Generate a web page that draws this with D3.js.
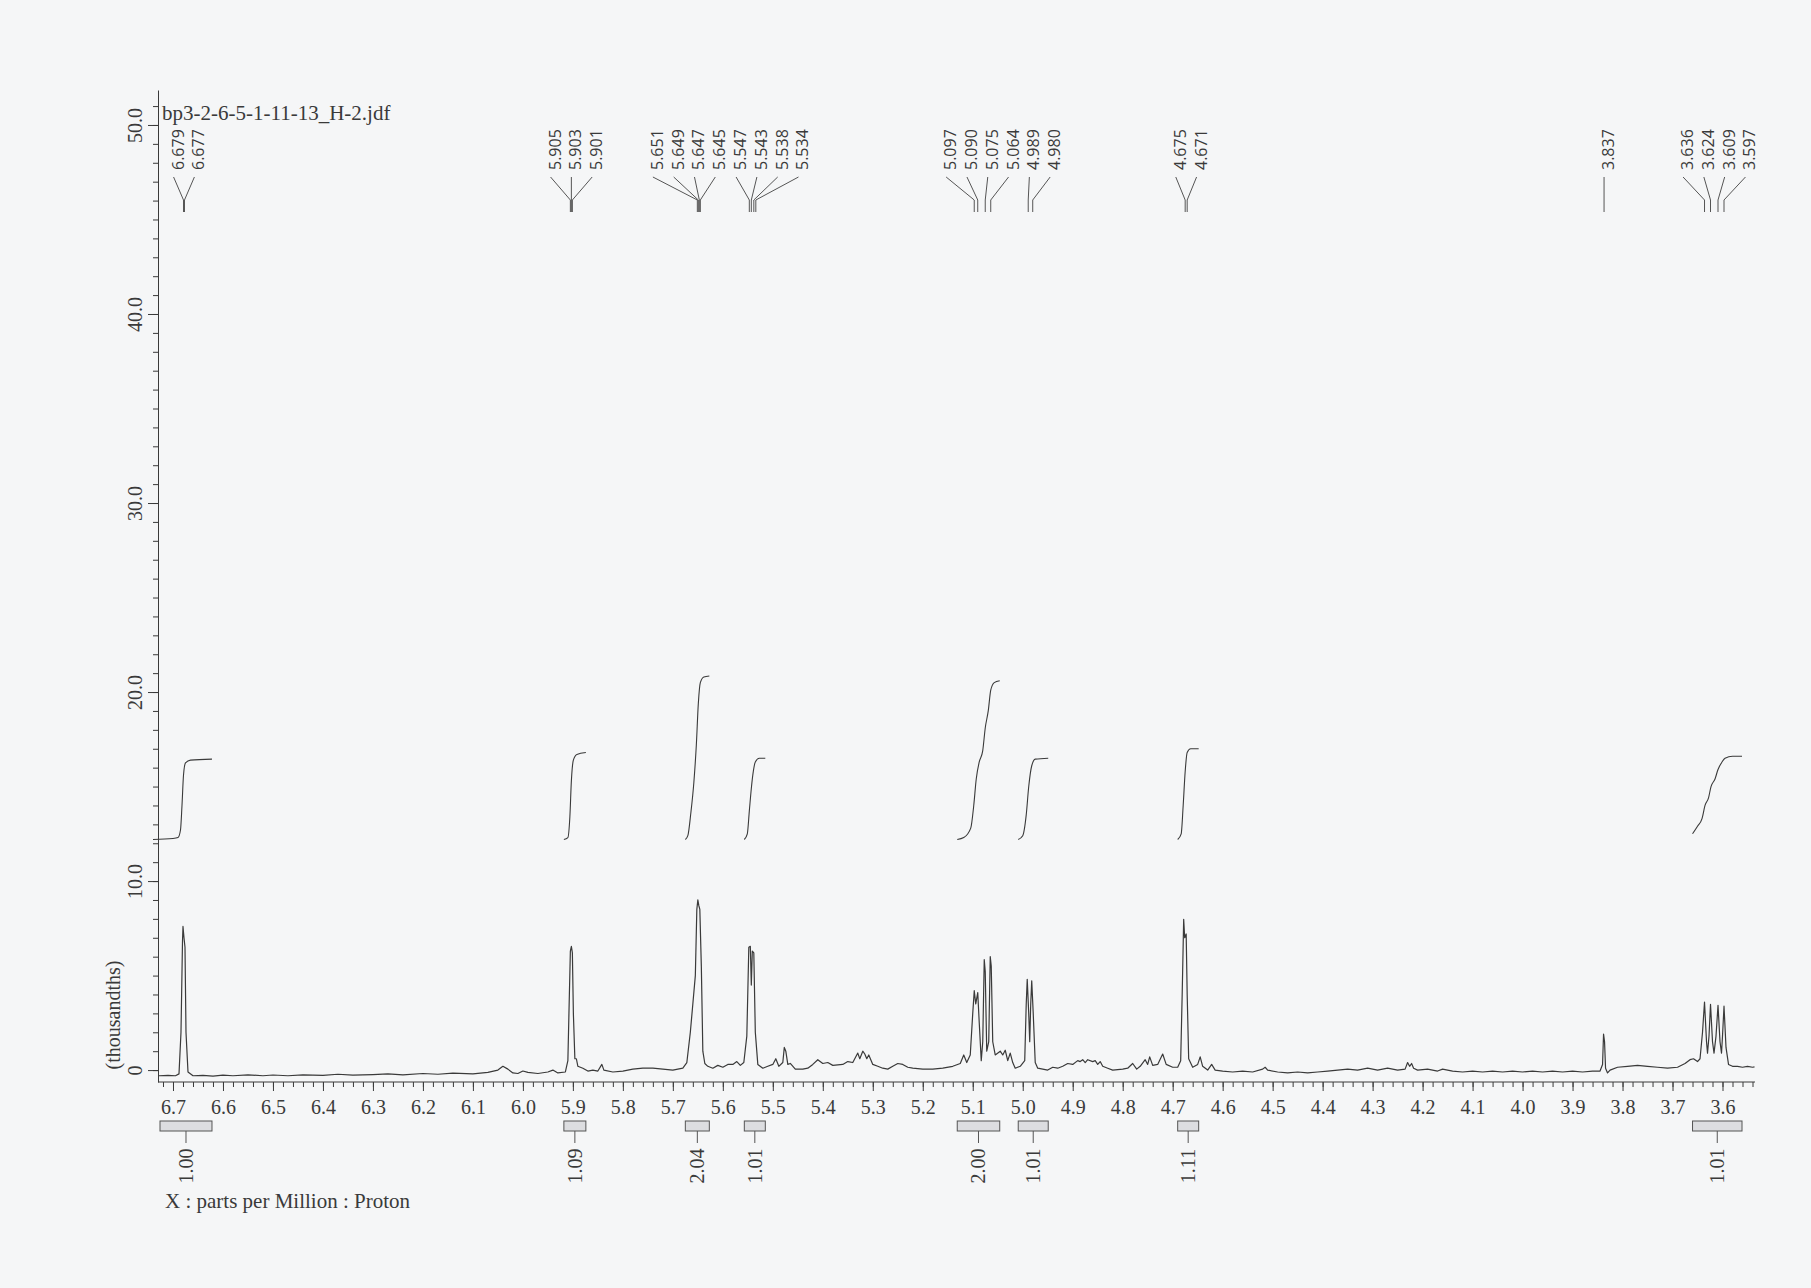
<!DOCTYPE html>
<html><head><meta charset="utf-8">
<script src="https://cdn.jsdelivr.net/npm/d3@7"></script>
<style>
html,body{margin:0;padding:0;background:#f5f6f7;}
svg{display:block}
</style></head><body>
<svg id="c" width="1811" height="1288"></svg>
<script>
// ---------------- data ----------------
const fileName = "bp3-2-6-5-1-11-13_H-2.jdf";
const xAxisTitle = "X : parts per Million : Proton";
const yAxisTitle = "(thousandths)";

const xTickValues = [6.7,6.6,6.5,6.4,6.3,6.2,6.1,6.0,5.9,5.8,5.7,5.6,5.5,5.4,5.3,5.2,5.1,5.0,4.9,4.8,4.7,4.6,4.5,4.4,4.3,4.2,4.1,4.0,3.9,3.8,3.7,3.6];
const xTickLabels = ["6.7","6.6","6.5","6.4","6.3","6.2","6.1","6.0","5.9","5.8","5.7","5.6","5.5","5.4","5.3","5.2","5.1","5.0","4.9","4.8","4.7","4.6","4.5","4.4","4.3","4.2","4.1","4.0","3.9","3.8","3.7","3.6"];
const yTickValues = [0,10,20,30,40,50];
const yTickLabels = ["0","10.0","20.0","30.0","40.0","50.0"];

// peak picks (ppm)
const peakLabels = [6.679,6.677,5.905,5.903,5.901,5.651,5.649,5.647,5.645,5.547,5.543,5.538,5.534,
  5.097,5.090,5.075,5.064,4.989,4.980,4.675,4.671,3.837,3.636,3.624,3.609,3.597];

// integration ranges [from ppm, to ppm] and values
const integralRanges = [[6.726,6.622],[5.918,5.874],[5.675,5.627],[5.557,5.515],[5.131,5.046],[5.009,4.949],[4.690,4.648],[3.660,3.561]];
const integralValues = ["1.00","1.09","2.04","1.01","2.00","1.01","1.11","1.01"];

// integral curves [ppm, thousandths]
const integralCurves = [
 [[6.740,12.2],[6.70,12.25],[6.690,12.3],[6.685,12.7],[6.682,14.0],[6.679,15.6],[6.675,16.25],[6.665,16.4],[6.622,16.45]],
 [[5.918,12.2],[5.910,12.3],[5.906,13.4],[5.903,15.3],[5.899,16.4],[5.892,16.7],[5.874,16.8]],
 [[5.675,12.2],[5.670,12.4],[5.664,13.6],[5.658,15.2],[5.653,17.2],[5.649,19.4],[5.645,20.5],[5.638,20.8],[5.627,20.85]],
 [[5.557,12.2],[5.551,12.5],[5.547,13.7],[5.543,14.9],[5.539,15.8],[5.535,16.3],[5.527,16.5],[5.515,16.5]],
 [[5.131,12.2],[5.118,12.3],[5.104,12.8],[5.098,14.0],[5.093,15.4],[5.087,16.3],[5.080,16.9],[5.075,18.1],[5.069,19.0],[5.064,20.1],[5.057,20.5],[5.046,20.6]],
 [[5.009,12.2],[5.000,12.4],[4.993,13.5],[4.988,15.0],[4.982,16.1],[4.975,16.45],[4.949,16.5]],
 [[4.690,12.2],[4.683,12.5],[4.679,14.0],[4.675,15.8],[4.671,16.8],[4.664,17.0],[4.648,17.0]],
 [[3.660,12.5],[3.650,12.9],[3.641,13.3],[3.635,14.0],[3.628,14.4],[3.623,15.0],[3.615,15.4],[3.609,15.9],[3.601,16.3],[3.595,16.5],[3.580,16.6],[3.561,16.6]]
];

// spectrum trace [ppm, thousandths]
const spectrum = [
 [6.728,-0.3],[6.71,-0.28],[6.695,-0.3],[6.688,-0.2],[6.684,2.0],[6.681,6.8],[6.680,7.6],[6.678,7.0],[6.676,6.5],[6.674,2.0],[6.670,-0.1],
 [6.66,-0.3],[6.64,-0.28],[6.62,-0.32],[6.60,-0.27],[6.58,-0.3],[6.55,-0.25],[6.52,-0.3],[6.50,-0.26],[6.47,-0.3],[6.44,-0.25],[6.40,-0.28],
 [6.37,-0.22],[6.34,-0.27],[6.30,-0.24],[6.27,-0.2],[6.24,-0.25],[6.20,-0.18],[6.17,-0.22],[6.14,-0.16],[6.10,-0.2],[6.07,-0.12],[6.05,0.0],
 [6.04,0.2],[6.03,0.05],[6.02,-0.15],[6.01,-0.18],[6.00,-0.05],[5.99,-0.12],[5.97,-0.18],[5.95,-0.1],[5.94,0.0],[5.93,-0.15],[5.915,-0.1],
 [5.91,0.5],[5.907,4.0],[5.905,6.3],[5.903,6.55],[5.901,6.2],[5.899,3.0],[5.896,0.6],[5.893,0.6],[5.89,0.2],[5.88,0.1],[5.87,-0.05],
 [5.86,0.0],[5.85,-0.05],[5.842,0.3],[5.838,0.0],[5.82,-0.1],[5.80,-0.05],[5.78,0.05],[5.76,0.1],[5.74,0.1],[5.72,0.05],[5.70,0.0],
 [5.68,0.1],[5.672,0.4],[5.665,2.0],[5.66,3.5],[5.655,5.0],[5.652,8.5],[5.650,9.0],[5.648,8.7],[5.646,8.5],[5.643,5.5],[5.640,1.0],
 [5.636,0.35],[5.63,0.2],[5.62,0.1],[5.61,0.25],[5.60,0.15],[5.59,0.3],[5.58,0.3],[5.572,0.45],[5.565,0.25],[5.558,0.4],[5.552,1.8],
 [5.548,6.5],[5.545,6.55],[5.543,4.5],[5.541,6.3],[5.538,6.2],[5.535,2.0],[5.53,0.3],[5.52,0.1],[5.51,0.2],[5.50,0.3],[5.494,0.6],
 [5.488,0.2],[5.48,0.4],[5.477,1.2],[5.474,1.0],[5.47,0.3],[5.465,0.35],[5.455,0.05],[5.44,0.05],[5.43,0.1],[5.42,0.3],[5.41,0.55],
 [5.40,0.35],[5.39,0.4],[5.38,0.25],[5.36,0.3],[5.35,0.45],[5.34,0.4],[5.33,0.9],[5.326,0.6],[5.32,1.0],[5.316,0.85],[5.312,0.6],
 [5.308,0.8],[5.30,0.3],[5.29,0.2],[5.28,0.1],[5.27,0.05],[5.26,0.2],[5.25,0.35],[5.24,0.3],[5.23,0.15],[5.22,0.1],[5.20,0.05],
 [5.18,0.05],[5.16,0.1],[5.14,0.2],[5.125,0.35],[5.118,0.8],[5.112,0.4],[5.105,0.8],[5.10,3.0],[5.097,4.2],[5.094,3.5],[5.090,4.1],
 [5.087,2.5],[5.083,0.5],[5.080,1.5],[5.077,5.85],[5.075,5.2],[5.072,1.0],[5.068,1.5],[5.065,6.0],[5.063,5.5],[5.06,1.5],[5.055,0.8],
 [5.045,1.0],[5.040,0.8],[5.035,1.05],[5.030,0.5],[5.025,0.9],[5.02,0.4],[5.015,0.1],[5.005,0.2],[4.996,0.5],[4.993,3.5],[4.991,4.8],
 [4.988,3.0],[4.986,1.5],[4.984,3.5],[4.982,4.72],[4.979,3.0],[4.975,0.4],[4.97,0.1],[4.96,0.05],[4.95,0.0],[4.94,0.15],[4.93,0.1],
 [4.92,0.2],[4.91,0.35],[4.90,0.3],[4.89,0.5],[4.885,0.45],[4.88,0.55],[4.875,0.4],[4.87,0.55],[4.86,0.45],[4.855,0.5],[4.85,0.3],
 [4.845,0.45],[4.84,0.2],[4.83,0.1],[4.82,0.0],[4.80,0.05],[4.79,0.1],[4.78,0.35],[4.772,0.05],[4.765,0.2],[4.755,0.55],[4.75,0.3],
 [4.746,0.7],[4.74,0.25],[4.73,0.3],[4.72,0.85],[4.713,0.3],[4.70,0.15],[4.69,0.15],[4.684,0.5],[4.681,4.0],[4.678,7.98],[4.676,7.0],
 [4.673,7.2],[4.671,4.0],[4.668,0.6],[4.66,0.15],[4.65,0.3],[4.645,0.7],[4.64,0.2],[4.63,0.0],[4.622,0.3],[4.615,0.0],[4.60,-0.05],
 [4.58,-0.1],[4.56,-0.05],[4.54,-0.1],[4.52,0.05],[4.515,0.15],[4.51,0.0],[4.49,-0.1],[4.47,-0.15],[4.45,-0.1],[4.43,-0.15],[4.41,-0.1],
 [4.39,-0.05],[4.37,0.0],[4.35,0.05],[4.33,0.0],[4.31,0.1],[4.29,0.0],[4.27,0.1],[4.25,0.0],[4.235,0.05],[4.23,0.4],[4.226,0.2],
 [4.222,0.35],[4.218,0.1],[4.21,0.0],[4.19,0.05],[4.17,-0.05],[4.16,0.05],[4.14,-0.05],[4.12,-0.1],[4.10,-0.05],[4.08,-0.1],[4.06,-0.05],
 [4.04,-0.1],[4.02,-0.05],[4.00,-0.1],[3.98,-0.05],[3.96,-0.1],[3.94,-0.05],[3.92,-0.1],[3.90,-0.05],[3.88,-0.1],[3.86,-0.05],[3.845,-0.05],
 [3.840,0.3],[3.838,1.9],[3.836,1.5],[3.834,0.1],[3.830,-0.15],[3.825,0.0],[3.81,0.15],[3.79,0.2],[3.77,0.25],[3.75,0.2],[3.73,0.15],
 [3.71,0.1],[3.69,0.15],[3.675,0.35],[3.665,0.55],[3.658,0.6],[3.650,0.45],[3.645,0.6],[3.640,2.0],[3.636,3.6],[3.632,1.5],[3.630,0.9],
 [3.627,1.8],[3.624,3.48],[3.620,1.5],[3.617,0.9],[3.613,1.8],[3.609,3.43],[3.605,1.5],[3.602,0.9],[3.600,1.8],[3.597,3.38],[3.593,1.2],
 [3.588,0.3],[3.58,0.2],[3.57,0.2],[3.56,0.15],[3.55,0.2],[3.54,0.15],[3.536,0.17]
];

// ---------------- drawing ----------------
const svg = d3.select("#c");
const ink = "#3a3a3a";
const serif = "'Liberation Serif','Times New Roman',serif";
const sans = "'Open Sans','Noto Sans',sans-serif";

const axisLeftX = 158, axisBottomY = 1082;
const x = d3.scaleLinear().domain([6.728, 3.535]).range([159, 1755]);
const y = d3.scaleLinear().domain([-0.63, 51.85]).range([axisBottomY, 90]);

// x axis: minor then major
const xMinor = d3.range(6.72, 3.53, -0.02).map(v => +v.toFixed(2));
svg.append("g").attr("transform", `translate(0,${axisBottomY})`)
  .call(d3.axisBottom(x).tickValues(xMinor).tickSize(5).tickFormat("").tickSizeOuter(0))
  .call(g => g.select(".domain").attr("stroke", ink).attr("d", `M${axisLeftX - 159},0H${1755 - 159}`).attr("transform", "translate(159,0)"))
  .call(g => g.selectAll(".tick line").attr("stroke", ink));
svg.append("g").attr("transform", `translate(0,${axisBottomY})`)
  .call(d3.axisBottom(x).tickValues(xTickValues).tickSize(9).tickPadding(9).tickSizeOuter(0)
        .tickFormat((d, i) => xTickLabels[i]))
  .call(g => g.select(".domain").remove())
  .call(g => g.selectAll(".tick line").attr("stroke", ink))
  .call(g => g.selectAll(".tick text").attr("fill", ink).style("font-family", serif).style("font-size", "20px"));

// y axis
const yMinor = d3.range(0, 52, 1);
svg.append("g").attr("transform", `translate(${axisLeftX},0)`)
  .call(d3.axisLeft(y).tickValues(yMinor).tickSize(5).tickFormat("").tickSizeOuter(0))
  .call(g => g.select(".domain").attr("stroke", ink))
  .call(g => g.selectAll(".tick line").attr("stroke", ink));
svg.append("g").attr("transform", `translate(${axisLeftX},0)`)
  .call(d3.axisLeft(y).tickValues(yTickValues).tickSize(10).tickSizeOuter(0)
        .tickFormat((d, i) => yTickLabels[i]))
  .call(g => g.select(".domain").remove())
  .call(g => g.selectAll(".tick line").attr("stroke", ink))
  .call(g => g.selectAll(".tick text")
      .attr("x", null).attr("dy", null)
      .attr("transform", "translate(-16,0) rotate(-90)")
      .attr("text-anchor", "middle")
      .attr("fill", ink).style("font-family", serif).style("font-size", "20px"));

svg.append("text")
  .attr("transform", `translate(120,1015) rotate(-90)`)
  .attr("text-anchor", "middle").attr("fill", ink)
  .style("font-family", serif).style("font-size", "20px")
  .text(yAxisTitle);

svg.append("text").attr("x", 162).attr("y", 120).attr("fill", ink)
  .style("font-family", serif).style("font-size", "21px").text(fileName);

svg.append("text").attr("x", 165).attr("y", 1208).attr("fill", ink)
  .style("font-family", serif).style("font-size", "21px").text(xAxisTitle);

// spectrum
const line = d3.line().x(d => x(d[0])).y(d => y(d[1]));
svg.append("path").datum(spectrum).attr("d", line)
  .attr("fill", "none").attr("stroke", ink).attr("stroke-width", 1.2).attr("stroke-linejoin", "round");

// integral curves
const iline = d3.line().x(d => x(d[0])).y(d => y(d[1])).curve(d3.curveMonotoneX);
svg.append("g").selectAll("path").data(integralCurves).join("path")
  .attr("d", iline).attr("fill", "none").attr("stroke", ink).attr("stroke-width", 1.1);

// integral boxes + labels
const ig = svg.append("g").selectAll("g").data(integralRanges).join("g");
ig.append("rect")
  .attr("x", d => x(d[0])).attr("width", d => x(d[1]) - x(d[0]))
  .attr("y", 1121).attr("height", 10)
  .attr("fill", "#dcdde0").attr("stroke", "#555").attr("stroke-width", 1);
ig.append("line")
  .attr("x1", d => (x(d[0]) + x(d[1])) / 2).attr("x2", d => (x(d[0]) + x(d[1])) / 2)
  .attr("y1", 1131).attr("y2", 1143).attr("stroke", "#555");
ig.append("text")
  .attr("transform", d => `translate(${(x(d[0]) + x(d[1])) / 2 + 7},1166) rotate(-90)`)
  .attr("text-anchor", "middle").attr("fill", ink)
  .style("font-family", serif).style("font-size", "20px")
  .text((d, i) => integralValues[i]);

// peak labels with spread-out layout
const gap = 20.8;
let clusters = peakLabels.map(p => ({items: [p]})).sort((a, b) => x(a.items[0]) - x(b.items[0]));
function place(c) {
  const cx = d3.mean(c.items, p => x(p));
  const n = c.items.length;
  c.pos = c.items.map((p, i) => cx + (i - (n - 1) / 2) * gap);
}
clusters.forEach(place);
let merged = true;
while (merged) {
  merged = false;
  for (let i = 0; i < clusters.length - 1; i++) {
    const a = clusters[i], b = clusters[i + 1];
    if (a.pos[a.pos.length - 1] + gap > b.pos[0]) {
      a.items = a.items.concat(b.items);
      place(a);
      clusters.splice(i + 1, 1);
      merged = true; break;
    }
  }
}
const labelData = [];
clusters.forEach(c => c.items.forEach((p, i) => labelData.push({p, lx: c.pos[i]})));
const pl = svg.append("g").selectAll("g").data(labelData).join("g");
pl.append("text")
  .attr("transform", d => `translate(${d.lx + 10},170) rotate(-90)`)
  .attr("fill", ink).style("font-family", sans).style("font-size", "16px")
  .text(d => d.p.toFixed(3));
pl.append("path")
  .attr("d", d => `M${d.lx},177L${x(d.p)},200L${x(d.p)},212`)
  .attr("fill", "none").attr("stroke", "#555").attr("stroke-width", 1);
</script>
</body></html>
